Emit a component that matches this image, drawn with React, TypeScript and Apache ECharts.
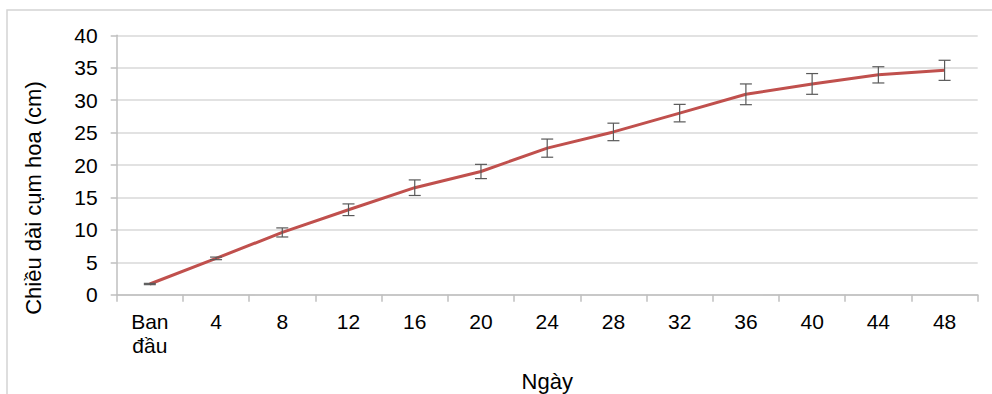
import React, { useEffect, useRef } from "react";
import * as echarts from "echarts";

const categories = ["Ban\nđầu", "4", "8", "12", "16", "20", "24", "28", "32", "36", "40", "44", "48"];
const meanValues = [1.65, 5.6, 9.6, 13.1, 16.5, 19.0, 22.6, 25.1, 28.0, 30.9, 32.5, 33.9, 34.6];
const errorValues = [0.1, 0.2, 0.7, 0.9, 1.2, 1.1, 1.4, 1.35, 1.35, 1.6, 1.6, 1.25, 1.55];
const yAxisTitle = "Chiều dài cụm hoa (cm)";
const xAxisTitle = "Ngày";

const FONT = "'Liberation Sans', Arial, sans-serif";

export default function App() {
  const ref = useRef<HTMLDivElement>(null);
  useEffect(() => {
    if (!ref.current) return;
    const chart = echarts.init(ref.current, null, { renderer: "svg" });
    const errData = meanValues.map((v, i) => [i, v - errorValues[i], v + errorValues[i]]);
    chart.setOption({
      animation: false,
      backgroundColor: "#ffffff",
      textStyle: { fontFamily: FONT },
      grid: {
        left: 116.7,
        right: 14.3,
        top: 35.3,
        bottom: 99.3,
        containLabel: false,
        outerBoundsMode: "none",
      },
      xAxis: {
        type: "category",
        data: categories,
        boundaryGap: true,
        name: xAxisTitle,
        nameLocation: "middle",
        nameGap: 76,
        nameTextStyle: { fontSize: 22, color: "#000", fontFamily: FONT },
        axisLine: { show: true, lineStyle: { color: "#bfbfbf", width: 1.5 } },
        axisTick: { show: true, length: 7, lineStyle: { color: "#bfbfbf", width: 1.5 } },
        axisLabel: { fontSize: 21, color: "#000", margin: 15, lineHeight: 24, fontFamily: FONT },
        splitLine: { show: false },
      },
      yAxis: {
        type: "value",
        min: 0,
        max: 40,
        interval: 5,
        axisLine: { show: true, lineStyle: { color: "#bfbfbf", width: 1.5 } },
        axisTick: { show: true, length: 6, inside: false, lineStyle: { color: "#bfbfbf", width: 1.5 } },
        axisLabel: { fontSize: 21, color: "#000", margin: 19, fontFamily: FONT },
        splitLine: { show: true, lineStyle: { color: "#d9d9d9", width: 1.5 } },
      },
      graphic: [
        {
          type: "rect",
          shape: { x: 7, y: 10, width: 1100, height: 500 },
          style: { fill: "none", stroke: "#d4d4d4", lineWidth: 1.5 },
          silent: true,
          z: -10,
        },
        {
          type: "text",
          x: 33,
          y: 198,
          rotation: Math.PI / 2,
          style: {
            text: yAxisTitle,
            fontSize: 22,
            fontFamily: FONT,
            fill: "#000",
            align: "center",
            verticalAlign: "middle",
          },
        },
      ],
      series: [
        {
          type: "line",
          data: meanValues,
          symbol: "none",
          lineStyle: { color: "#c0504d", width: 3 },
          z: 3,
        },
        {
          type: "custom",
          data: errData,
          z: 4,
          renderItem: (params: any, api: any) => {
            const x = api.value(0);
            const lo = api.coord([x, api.value(1)]);
            const hi = api.coord([x, api.value(2)]);
            const cap = 6;
            const style = { stroke: "#595959", lineWidth: 1.2 };
            return {
              type: "group",
              children: [
                { type: "line", shape: { x1: lo[0], y1: lo[1], x2: hi[0], y2: hi[1] }, style },
                { type: "line", shape: { x1: lo[0] - cap, y1: lo[1], x2: lo[0] + cap, y2: lo[1] }, style },
                { type: "line", shape: { x1: hi[0] - cap, y1: hi[1], x2: hi[0] + cap, y2: hi[1] }, style },
              ],
            };
          },
        },
      ],
    });
    return () => chart.dispose();
  }, []);
  return (
    <div
      ref={ref}
      style={{ position: "absolute", left: 0, top: 0, width: 992, height: 394 }}
    />
  );
}
